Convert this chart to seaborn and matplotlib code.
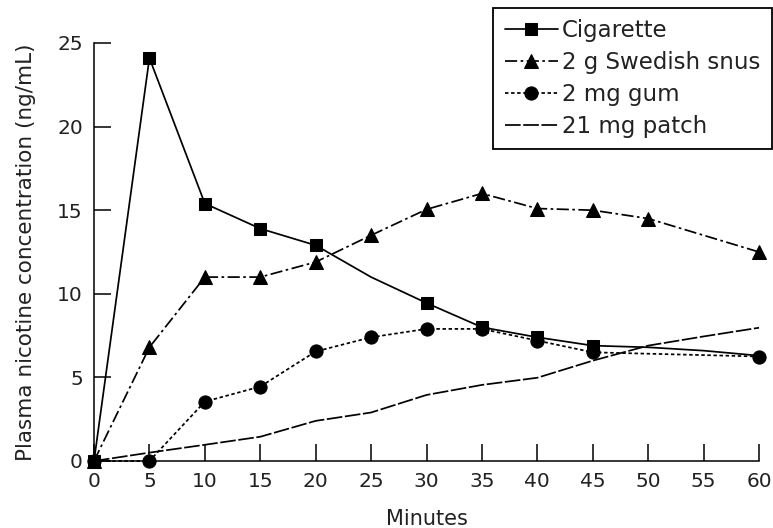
import matplotlib
matplotlib.use("Agg")
import matplotlib.pyplot as plt
import seaborn as sns
import pandas as pd

# ---- data ----
minutes_all = [0, 5, 10, 15, 20, 25, 30, 35, 40, 45, 50, 55, 60]
cigarette = [0, 24.1, 15.4, 13.9, 12.9, 11.0, 9.45, 8.0, 7.4, 6.9, 6.8, 6.6, 6.3]
cig_marked = [0, 1, 2, 3, 4, 6, 7, 8, 9]

snus_minutes = [0, 5, 10, 15, 20, 25, 30, 35, 40, 45, 50, 60]
snus = [0, 6.8, 11.0, 11.0, 11.9, 13.5, 15.05, 16.0, 15.1, 15.0, 14.5, 12.5]

gum_minutes = [0, 5, 10, 15, 20, 25, 30, 35, 40, 45, 60]
gum = [0, 0, 3.55, 4.45, 6.55, 7.4, 7.9, 7.9, 7.2, 6.5, 6.25]

patch = [0, 0.5, 0.97, 1.45, 2.4, 2.9, 3.95, 4.55, 4.98, 6.0, 6.9, 7.45, 7.97]

labels = ["Cigarette", "2 g Swedish snus", "2 mg gum", "21 mg patch"]
x_ticks = [0, 5, 10, 15, 20, 25, 30, 35, 40, 45, 50, 55, 60]
y_ticks = [0, 5, 10, 15, 20, 25]

sns.set_style("ticks")
plt.rcParams["font.family"] = ["DejaVu Sans"]

fig = plt.figure(figsize=(7.73, 5.28), dpi=100)
ax = fig.add_axes([94 / 773, 67 / 528, 665 / 773, 418 / 528])

lw = 1.25
common = dict(color="black", linewidth=lw, clip_on=False, ax=ax,
              markeredgecolor="black", markerfacecolor="black")

sns.lineplot(x=minutes_all, y=cigarette, marker="s", markersize=9,
             linestyle="-", markevery=cig_marked, label=labels[0], **common)
sns.lineplot(x=snus_minutes, y=snus, marker="^", markersize=10,
             linestyle=(0, (7, 2, 1.5, 2)), label=labels[1], **common)
sns.lineplot(x=gum_minutes, y=gum, marker="o", markersize=9.5,
             linestyle=(0, (2, 1.5)), label=labels[2], **common)
sns.lineplot(x=minutes_all, y=patch, linestyle=(0, (9, 1.5)),
             label=labels[3], **common)

ax.set_xlim(0, 60)
ax.set_ylim(0, 25)
ax.set_xticks(x_ticks)
ax.set_yticks(y_ticks)
ax.tick_params(direction="in", length=12, width=1.1, labelsize=14.5,
               colors="black", labelcolor="#222222")
ax.tick_params(axis="x", pad=8)
ax.tick_params(axis="y", pad=8)
for s in ["top", "right"]:
    ax.spines[s].set_visible(False)
for s in ["left", "bottom"]:
    ax.spines[s].set_linewidth(1.1)
    ax.spines[s].set_color("black")

ax.set_xlabel("Minutes", fontsize=15, color="#222222", labelpad=13)
ax.set_ylabel("Plasma nicotine concentration (ng/mL)", fontsize=15.5,
              color="#222222", labelpad=15)

leg = ax.legend(loc="upper right", bbox_to_anchor=(1.0195, 1.0837),
                borderaxespad=0, fontsize=16.5, frameon=True, fancybox=False,
                handlelength=2.3, handletextpad=0.2, labelspacing=0.38,
                borderpad=0.5)
leg.get_frame().set_edgecolor("black")
leg.get_frame().set_linewidth(1.3)
leg.get_frame().set_alpha(1)
for t in leg.get_texts():
    t.set_color("#222222")

fig.savefig("out.png", dpi=100)
